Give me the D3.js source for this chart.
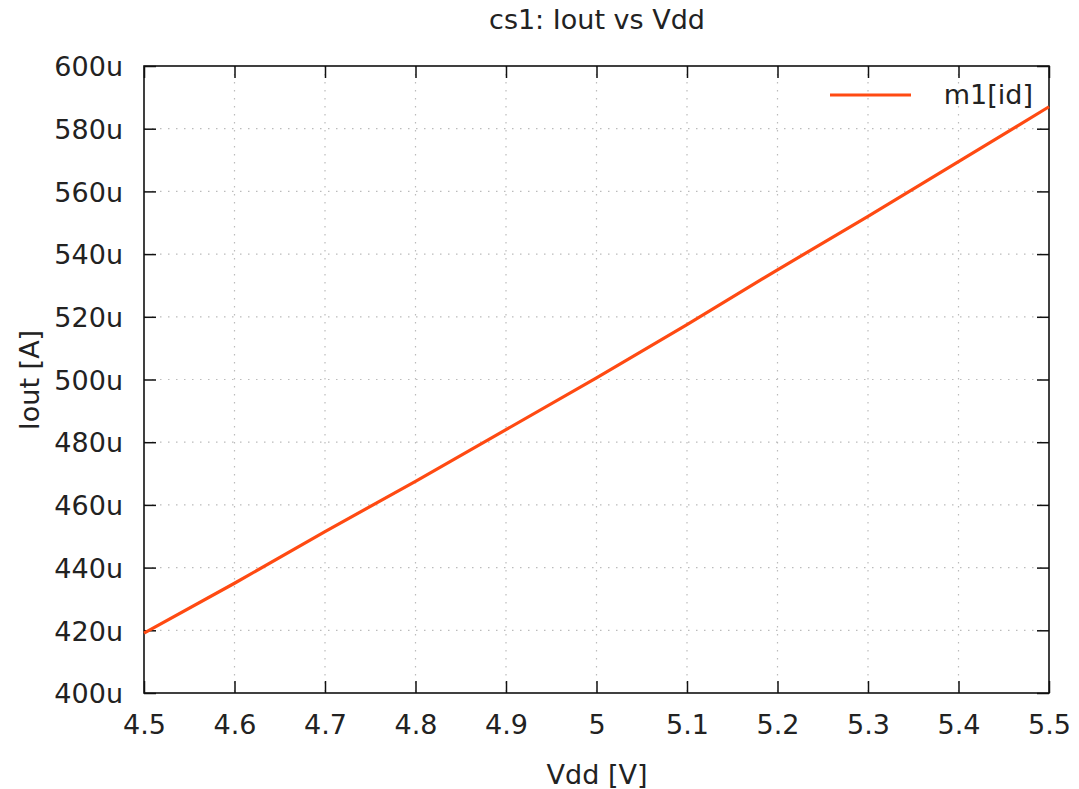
<!DOCTYPE html>
<html>
<head>
<meta charset="utf-8">
<script src="https://cdn.jsdelivr.net/npm/d3@7"></script>
<style>
  body { margin: 0; background: #fff; }
  text { font-family: "DejaVu Sans", sans-serif; fill: #222; }
</style>
</head>
<body>
<script>
// sweep of Vdd and the drain current (in uA)
const vdd = [4.5, 4.6, 4.7, 4.8, 4.9, 5.0, 5.1, 5.2, 5.3, 5.4, 5.5];
const iout = [419.1, 435.0, 451.5, 467.5, 484.0, 500.5, 517.5, 535.0, 552.0, 569.5, 587.0];

const xTicks = [4.5, 4.6, 4.7, 4.8, 4.9, 5.0, 5.1, 5.2, 5.3, 5.4, 5.5];
const yTicks = [400, 420, 440, 460, 480, 500, 520, 540, 560, 580, 600];

const seriesName = "m1[id]";
const title = "cs1: Iout vs Vdd";

const W = 1079, H = 789;
const margin = {top: 66, right: 30, bottom: 96, left: 144};
const width = W - margin.left - margin.right;
const height = H - margin.top - margin.bottom;
const fontSize = 27;

const svg = d3.select('body').append('svg')
  .attr('width', W)
  .attr('height', H);

const g = svg.append('g')
  .attr('transform', `translate(${margin.left}, ${margin.top})`);

const xScale = d3.scaleLinear().domain([4.5, 5.5]).range([0, width]);
const yScale = d3.scaleLinear().domain([400, 600]).range([height, 0]);

// dotted grid
g.append('g').selectAll('line')
  .data(xTicks.slice(1, -1))
  .enter().append('line')
  .attr('x1', d => xScale(d)).attr('x2', d => xScale(d))
  .attr('y1', 0).attr('y2', height)
  .attr('stroke', '#bbb').attr('stroke-width', 1.2)
  .attr('stroke-dasharray', '1.5,6.5');

g.append('g').selectAll('line')
  .data(yTicks.slice(1, -1))
  .enter().append('line')
  .attr('x1', 0).attr('x2', width)
  .attr('y1', d => yScale(d)).attr('y2', d => yScale(d))
  .attr('stroke', '#bbb').attr('stroke-width', 1.2)
  .attr('stroke-dasharray', '1.5,6.5');

// axes, ticks pointing inwards on all four sides (gnuplot style)
const tickLen = 12;
const fmtY = d => d + 'u';
const fmtX = d => d3.format('')(d);

const bottomAxis = d3.axisBottom(xScale).tickValues(xTicks).tickFormat(fmtX)
  .tickSizeInner(-tickLen).tickSizeOuter(0).tickPadding(23);
const leftAxis = d3.axisLeft(yScale).tickValues(yTicks).tickFormat(fmtY)
  .tickSizeInner(-tickLen).tickSizeOuter(0).tickPadding(21);
const topAxis = d3.axisTop(xScale).tickValues(xTicks).tickFormat('')
  .tickSizeInner(-tickLen).tickSizeOuter(0);
const rightAxis = d3.axisRight(yScale).tickValues(yTicks).tickFormat('')
  .tickSizeInner(-tickLen).tickSizeOuter(0);

const xAxisGroup = g.append('g').attr('transform', `translate(0, ${height})`).call(bottomAxis);
const yAxisGroup = g.append('g').call(leftAxis);
const topGroup = g.append('g').call(topAxis);
const rightGroup = g.append('g').attr('transform', `translate(${width}, 0)`).call(rightAxis);

[xAxisGroup, yAxisGroup, topGroup, rightGroup].forEach(ax => {
  ax.selectAll('.domain').remove();
  ax.selectAll('line').attr('stroke', '#111').attr('stroke-width', 1.5);
  ax.selectAll('text').attr('font-size', fontSize).attr('fill', '#222')
    .style('font-family', '"DejaVu Sans", sans-serif');
});
yAxisGroup.selectAll('text').attr('dy', '0.36em');
xAxisGroup.selectAll('text').attr('dy', '0.66em');

// frame
g.append('rect')
  .attr('width', width).attr('height', height)
  .attr('fill', 'none').attr('stroke', '#111').attr('stroke-width', 1.6);

// the data line
const line = d3.line()
  .x((d, i) => xScale(vdd[i]))
  .y(d => yScale(d));

g.append('path')
  .datum(iout)
  .attr('d', line)
  .attr('fill', 'none')
  .attr('stroke', '#ff4a12')
  .attr('stroke-width', 3.2);

// legend
g.append('line')
  .attr('x1', 830 - margin.left).attr('x2', 911 - margin.left)
  .attr('y1', 95 - margin.top).attr('y2', 95 - margin.top)
  .attr('stroke', '#ff4a12').attr('stroke-width', 3.2);
g.append('text')
  .attr('x', 1033 - margin.left).attr('y', 104 - margin.top)
  .attr('text-anchor', 'end').attr('font-size', fontSize)
  .text(seriesName);

// title and axis labels
svg.append('text')
  .attr('x', 597).attr('y', 29)
  .attr('text-anchor', 'middle').attr('font-size', fontSize)
  .text(title);

svg.append('text')
  .attr('x', 597).attr('y', 784)
  .attr('text-anchor', 'middle').attr('font-size', fontSize)
  .text('Vdd [V]');

svg.append('text')
  .attr('transform', 'translate(39, 380) rotate(-90)')
  .attr('text-anchor', 'middle').attr('font-size', fontSize)
  .text('Iout [A]');
</script>
</body>
</html>
